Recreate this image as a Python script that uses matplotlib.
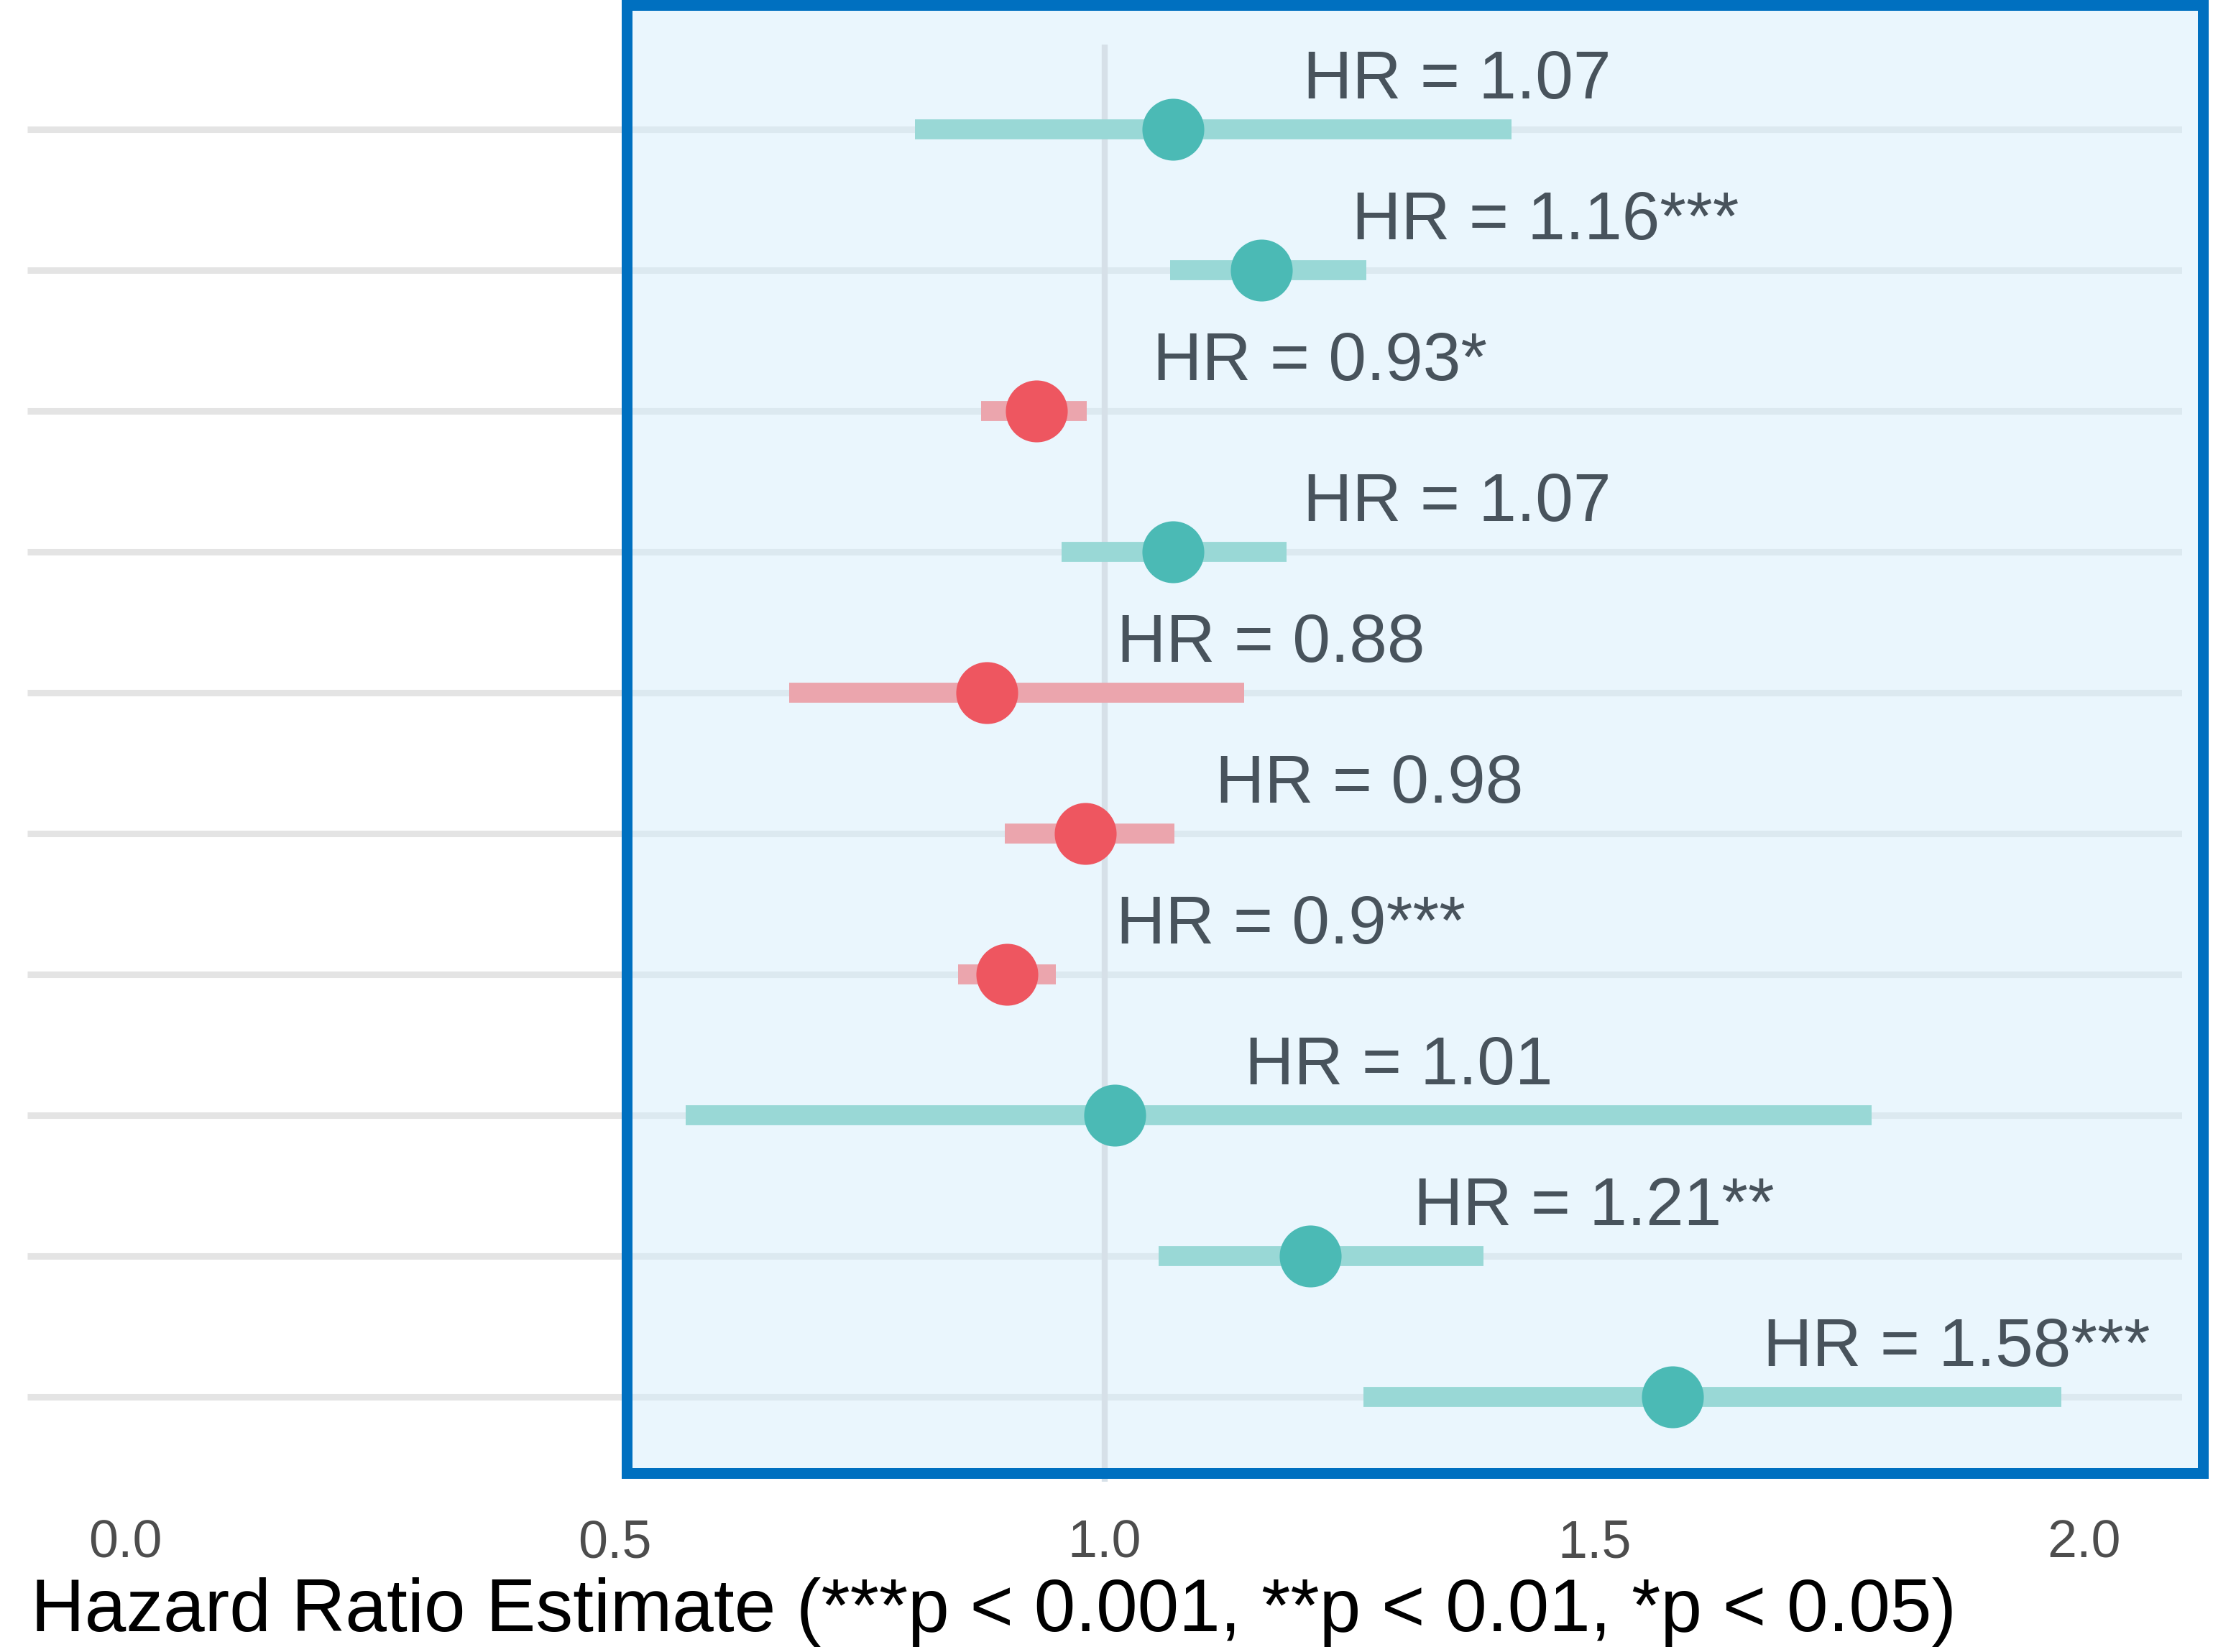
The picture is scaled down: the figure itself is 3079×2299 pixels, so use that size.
import matplotlib
matplotlib.use("Agg")
import matplotlib.pyplot as plt
from matplotlib.patches import Rectangle

plt.rcParams['font.family'] = ['Liberation Sans', 'DejaVu Sans']

# hazard ratios, top row first
estimate = [1.07, 1.16, 0.93, 1.07, 0.88, 0.98, 0.90, 1.01, 1.21, 1.58]
ci_low = [0.806, 1.067, 0.874, 0.956, 0.678, 0.898, 0.850, 0.572, 1.055, 1.264]
ci_high = [1.415, 1.267, 0.982, 1.186, 1.142, 1.071, 0.950, 1.783, 1.387, 1.977]
labels = ['HR = 1.07', 'HR = 1.16***', 'HR = 0.93*', 'HR = 1.07', 'HR = 0.88',
          'HR = 0.98', 'HR = 0.9***', 'HR = 1.01', 'HR = 1.21**', 'HR = 1.58***']
xticks = [0.0, 0.5, 1.0, 1.5, 2.0]

W, H = 3079, 2299
fig = plt.figure(figsize=(W / 100, H / 100), dpi=100)
ax = fig.add_axes([38 / W, (H - 2062) / H, (3036 - 38) / W, 2000 / H])
ax.set_xlim(-0.1, 2.1)
ax.set_ylim(0.4, 10.6)
for s in ax.spines.values():
    s.set_visible(False)

n = len(estimate)
ys = [n - i for i in range(n)]

# horizontal grid
for y in ys:
    ax.axhline(y, color='#E4E4E4', lw=6.5, zorder=0, solid_capstyle='butt')

# highlight box
box = (0.512, 0.46, 2.121 - 0.512, 10.88 - 0.46)
ax.add_patch(Rectangle(box[:2], box[2], box[3], facecolor='#D6EEFC', alpha=0.5,
                       edgecolor='none', zorder=1, clip_on=False))
ax.add_patch(Rectangle(box[:2], box[2], box[3], facecolor='none',
                       edgecolor='#0070C0', lw=10.8, zorder=5, clip_on=False))

ax.axvline(1.0, color='#D6E0E8', lw=6, zorder=2)

teal, teal_l = '#4BBAB5', '#99D8D6'
red, red_l = '#EE5660', '#EBA5AD'
for i, y in enumerate(ys):
    c, cl = (teal, teal_l) if estimate[i] >= 1 else (red, red_l)
    ax.hlines(y, ci_low[i], ci_high[i], color=cl, lw=20, zorder=3,
              capstyle='butt')
    ax.plot(estimate[i], y, 'o', ms=62, color=c, mec='none', zorder=4)
    ax.text(estimate[i] + 0.29, y + 0.22, labels[i], ha='center',
            va='baseline', fontsize=68, color='#48535C', zorder=6)

ax.set_yticks([])
ax.set_xticks(xticks)
ax.set_xticklabels([f'{t:.1f}' for t in xticks])
ax.tick_params(axis='x', length=0, pad=37, labelsize=53, labelcolor='#4D4D4D')

fig.text(43 / W, 1 - 2244 / H, 'Hazard Ratio Estimate (***p < 0.001, **p < 0.01, *p < 0.05)',
         ha='left', va='center', fontsize=74.5, color='black')

fig.savefig('out.png', dpi=100)
